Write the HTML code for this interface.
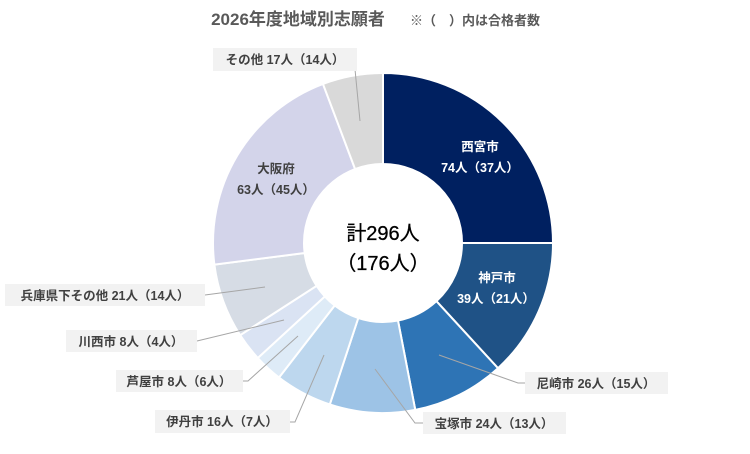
<!DOCTYPE html>
<html><head><meta charset="utf-8"><style>
body{margin:0;background:#fff;}
svg text{font-family:"Liberation Sans","Noto Sans CJK JP",sans-serif;}
</style></head><body>
<svg id="s" width="750" height="449" xmlns="http://www.w3.org/2000/svg">
<rect width="750" height="449" fill="#fff"/>
<text x="298" y="25" font-size="17" font-weight="bold" fill="#595959" text-anchor="middle">2026年度地域別志願者</text>
<text x="410" y="25" font-size="13" font-weight="bold" fill="#595959">※（　）内は合格者数</text>
<g id="pie"></g>
<g stroke="#a6a6a6" stroke-width="1" fill="none">
<polyline points="360,121 354,59"/>
<polyline points="265,287 205,295"/>
<polyline points="284,320 197,341"/>
<polyline points="298,336 248,381 243,381"/>
<polyline points="324,355 295,422 290,422"/>
<polyline points="375,369 415,423 423,423"/>
<polyline points="439,355 518,383 525,383"/>
</g>
<g fill="#f2f2f2">
<rect x="213" y="48" width="144" height="23"/>
<rect x="5" y="284" width="200" height="22"/>
<rect x="66" y="330" width="131" height="22"/>
<rect x="116" y="370" width="127" height="22"/>
<rect x="155" y="410" width="135" height="23"/>
<rect x="423" y="412" width="143" height="22"/>
<rect x="525" y="372" width="143" height="22"/>
</g>
<g font-size="12.5" font-weight="bold" fill="#404040" text-anchor="middle">
<text x="285" y="64">その他 17人（14人）</text>
<text x="105" y="300">兵庫県下その他 21人（14人）</text>
<text x="131" y="346">川西市 8人（4人）</text>
<text x="179" y="386">芦屋市 8人（6人）</text>
<text x="222" y="426">伊丹市 16人（7人）</text>
<text x="494" y="428">宝塚市 24人（13人）</text>
<text x="596" y="388">尼崎市 26人（15人）</text>
<text x="276" y="173">大阪府</text>
<text x="276" y="194">63人（45人）</text>
</g>
<g font-size="12.5" font-weight="bold" fill="#fff" text-anchor="middle">
<text x="480" y="151">西宮市</text>
<text x="480" y="172">74人（37人）</text>
<text x="497" y="282">神戸市</text>
<text x="496" y="303">39人（21人）</text>
</g>
<g font-size="20" fill="#000" text-anchor="middle" stroke="#000" stroke-width="0.3">
<text x="383" y="240">計296人</text>
<text x="383" y="270">（176人）</text>
</g>
</svg>
<script>
var d=[[74,"#002060"],[39,"#1f5286"],[26,"#2e74b5"],[24,"#9dc3e6"],[16,"#bdd7ee"],[8,"#deebf7"],[8,"#dae3f3"],[21,"#d6dce5"],[63,"#d3d4ea"],[17,"#d9d9d9"]];
var cx=383,cy=243,R=170,r=79,a=-Math.PI/2,g=document.getElementById("pie"),h="";
function p(rad,t){return (cx+rad*Math.cos(t)).toFixed(2)+","+(cy+rad*Math.sin(t)).toFixed(2);}
d.forEach(function(x){var b=a+x[0]/296*2*Math.PI,l=(b-a)>Math.PI?1:0;
h+='<path d="M'+p(R,a)+' A'+R+','+R+' 0 '+l+' 1 '+p(R,b)+' L'+p(r,b)+' A'+r+','+r+' 0 '+l+' 0 '+p(r,a)+' Z" fill="'+x[1]+'" stroke="#fff" stroke-width="2"/>';a=b;});
g.innerHTML=h;
</script>
</body></html>
